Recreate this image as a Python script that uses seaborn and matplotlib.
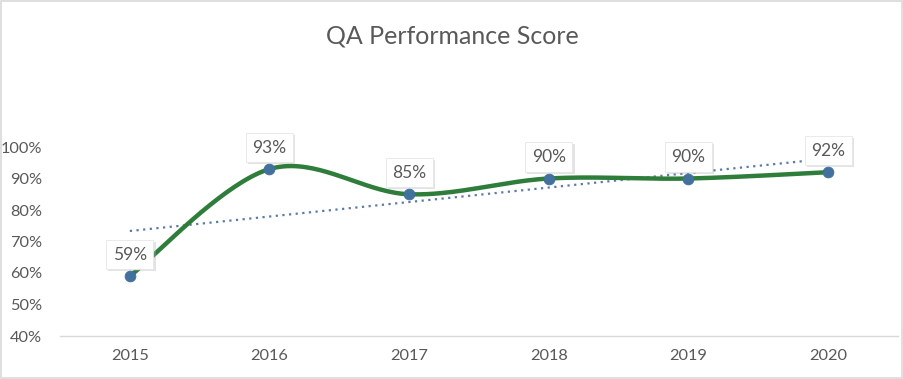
import numpy as np
import pandas as pd
import matplotlib
matplotlib.use("Agg")
import matplotlib.pyplot as plt
import matplotlib.patheffects as pe
from matplotlib.patches import Rectangle
import seaborn as sns

years = ["2015", "2016", "2017", "2018", "2019", "2020"]
scores = [0.59, 0.93, 0.85, 0.90, 0.90, 0.92]
score_labels = ["59%", "93%", "85%", "90%", "90%", "92%"]

sns.set_style("white")
plt.rcParams['font.family'] = ['Lato', 'DejaVu Sans']

line_color = "#2E7D3A"
marker_color = "#41719C"
trend_color = "#5A7BA6"
text_color = "#595959"


def catmull_rom(xs, ys, steps=40):
    # Excel-like smoothed line through the points
    px = np.concatenate([[xs[0]], xs, [xs[-1]]])
    py = np.concatenate([[ys[0]], ys, [ys[-1]]])
    outx, outy = [], []
    for i in range(1, len(px) - 2):
        t = np.linspace(0, 1, steps)
        for arr, out in ((px, outx), (py, outy)):
            p0, p1, p2, p3 = arr[i - 1], arr[i], arr[i + 1], arr[i + 2]
            c1 = p1 + (p2 - p0) / 6
            c2 = p2 - (p3 - p1) / 6
            out.extend((1 - t) ** 3 * p1 + 3 * (1 - t) ** 2 * t * c1
                       + 3 * (1 - t) * t ** 2 * c2 + t ** 3 * p2)
    return np.array(outx), np.array(outy)


df = pd.DataFrame({"pos": np.arange(len(years)), "score": scores})
sx, sy = catmull_rom(df["pos"].values.astype(float), df["score"].values)
smooth = pd.DataFrame({"pos": sx, "score": sy})

fig = plt.figure(figsize=(9.04, 3.79), dpi=100)
ax = fig.add_axes([60 / 904, 1 - 336 / 379, 838 / 904, (336 - 147) / 379])

sns.regplot(data=df, x="pos", y="score", scatter=False, ci=None, truncate=True,
            line_kws={"color": trend_color, "linestyle": (0, (1, 2)), "linewidth": 1.6},
            ax=ax)
sns.lineplot(data=smooth, x="pos", y="score", color=line_color, linewidth=3.2,
             sort=False, ax=ax)
sns.scatterplot(data=df, x="pos", y="score", color=marker_color, s=60,
                edgecolor=marker_color, zorder=5, ax=ax)

for x, y, lab in zip(df["pos"], df["score"], score_labels):
    t = ax.annotate(lab, (x, y), xytext=(0, 15.5), textcoords="offset points",
                    ha="center", va="center", fontsize=12.5, color=text_color,
                    bbox=dict(boxstyle="square,pad=0.38", fc="white", ec="#E6E6E6", lw=0.6),
                    zorder=6, annotation_clip=False)
    t.get_bbox_patch().set_path_effects([
        pe.SimplePatchShadow(offset=(1.5, -1.5), shadow_rgbFace="#b0b0b0", alpha=0.35),
        pe.Normal()])

ax.set_xlim(-0.5, len(years) - 0.5)
ax.set_ylim(0.4, 1.0)
ax.set_yticks(np.arange(0.4, 1.01, 0.1))
ax.set_yticklabels([f"{v:.0f}%" for v in np.arange(40, 101, 10)])
ax.set_xticks(df["pos"])
ax.set_xticklabels(years)
ax.tick_params(axis="both", labelsize=11.8, colors=text_color, length=0)
ax.tick_params(axis="x", pad=9)
ax.tick_params(axis="y", pad=13)
ax.set_xlabel("")
ax.set_ylabel("")
for side in ["top", "right", "left"]:
    ax.spines[side].set_visible(False)
ax.spines["bottom"].set_color("#D9D9D9")
ax.spines["bottom"].set_linewidth(1)
ax.patch.set_alpha(0)

fig.text(0.5, 1 - 36 / 379, "QA Performance Score", ha="center", va="center",
         fontsize=18, color=text_color)
fig.patches.append(Rectangle((0.001, 0.002), 0.997, 0.995, transform=fig.transFigure,
                             fill=False, edgecolor="#D9D9D9", linewidth=1.2))

fig.savefig("out.png", dpi=100)
